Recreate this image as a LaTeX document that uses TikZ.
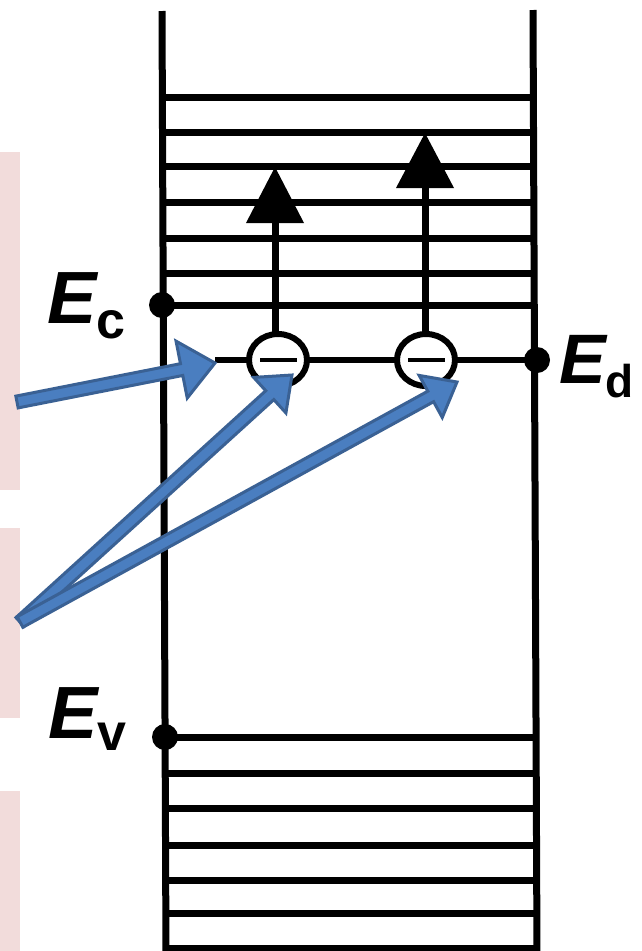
\documentclass[tikz,border=0pt]{standalone}
\usepackage{fontspec}
\setmainfont{Liberation Sans}
\usetikzlibrary{calc}
\newcommand\blarrow[5]{%
  \coordinate (h) at ($(#2)!#3!(#1)$);
  \filldraw[bluearrow] ($(#1)!#5!90:(#2)$) -- ($(h)!#5!-90:(#1)$) -- ($(h)!#4!-90:(#1)$) -- (#2)
    -- ($(h)!#4!90:(#1)$) -- ($(h)!#5!90:(#1)$) -- ($(#1)!#5!-90:(#2)$) -- cycle;}
\definecolor{pinkbox}{HTML}{F2DCDB}
\definecolor{bluefill}{HTML}{4A7EC0}
\definecolor{blueline}{HTML}{3A6194}
\tikzset{
  wall/.style={line width=7pt},
  level/.style={line width=7pt},
  stem/.style={line width=7pt},
  edline/.style={line width=5.5pt},
  donor/.style={line width=6pt, fill=white},
  minusbar/.style={line width=4.5pt},
  dot/.style={circle, fill=black, inner sep=0pt, minimum size=26pt},
  elabel/.style={anchor=base west, inner sep=0pt},
  bluearrow/.style={fill=bluefill, draw=blueline, line width=3pt, line join=miter},
  pinkrect/.style={fill=pinkbox}
}
\begin{document}
\begin{tikzpicture}[x=1pt,y=-1pt]
\useasboundingbox (0,0) rectangle (642,951);
\clip (0,0) rectangle (642,951);
\fill[white] (0,0) rectangle (642,951);
% pink boxes
\fill[pinkrect] (0,152) rectangle (20,490);
\fill[pinkrect] (0,528) rectangle (20,718);
\fill[pinkrect] (0,791) rectangle (20,951);
% walls
\coordinate (LT) at (162,11);
\coordinate (LB) at (166,955);
\coordinate (RT) at (533,10);
\coordinate (RB) at (537,955);
\draw[wall] (LT) -- (LB);
\draw[wall] (RT) -- (RB);
% conduction band levels
\foreach \y in {97,132,166,202,238,273,305}
  \draw[level] (163,\y) -- (535,\y);
% valence band levels
\foreach \y in {737,773,808,845,880,913,948}
  \draw[level] (165,\y) -- (537,\y);
% excitation arrows
\coordinate (A1tip) at (275,167);
\coordinate (A2tip) at (425,133);
\draw[stem] (275,215) -- (275,336);
\draw[stem] (425,180) -- (425,336);
\fill (A1tip) -- (304,223) -- (246,223) -- cycle;
\fill (A2tip) -- (454,188) -- (396,188) -- cycle;
% donor level
\coordinate (EdL) at (215,360);
\coordinate (EdR) at (537,360);
\draw[edline] (EdL) -- (EdR);
\filldraw[donor] (278,360) ellipse [x radius=29, y radius=26];
\filldraw[donor] (426,360) ellipse [x radius=29, y radius=26];
\draw[minusbar] (260,360) -- (297,360);
\draw[minusbar] (408,360) -- (445,360);
% dots
\node[dot] (Ecdot) at (162,305) {};
\node[dot] (Evdot) at (165,737) {};
\node[dot] (Eddot) at (537,360) {};
% labels
\node[elabel] (Ec) at (47,323) {\fontsize{74}{74}\selectfont\bfseries\itshape E\raisebox{-15pt}{\upshape\fontsize{52}{52}\selectfont c}};
\node[elabel] (Ev) at (48,738) {\fontsize{74}{74}\selectfont\bfseries\itshape E\raisebox{-12pt}{\upshape\fontsize{52}{52}\selectfont v}};
\node[elabel] (Ed) at (559,383) {\fontsize{70}{70}\selectfont\bfseries\itshape E\raisebox{-14pt}{\upshape\fontsize{46}{46}\selectfont d}};
% blue arrows
\coordinate (B1s) at (17,402);
\coordinate (B1t) at (215,363);
\coordinate (B2s) at (20,622);
\coordinate (B2t) at (292,375);
\coordinate (B3t) at (457,382);
\blarrow{B1s}{B1t}{34pt}{29pt}{6pt}
\blarrow{B2s}{B2t}{30pt}{24pt}{6pt}
\blarrow{B2s}{B3t}{30pt}{24pt}{6pt}
\end{tikzpicture}
\end{document}
